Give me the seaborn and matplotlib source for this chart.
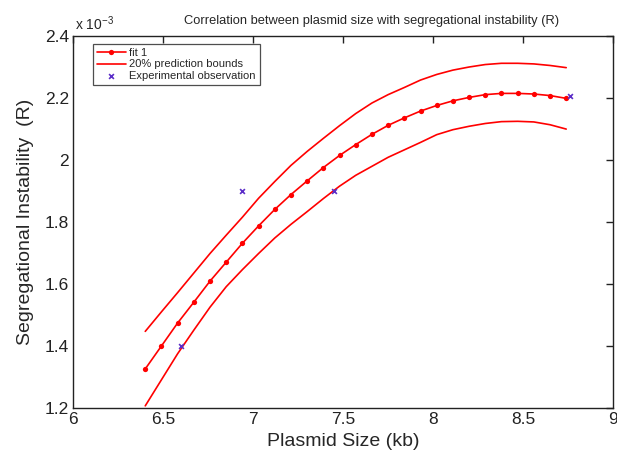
import matplotlib
matplotlib.use("Agg")
import matplotlib.pyplot as plt
import seaborn as sns
import pandas as pd

# Plasmid size (kb) grid of the fitted curve
x_fit = [6.40, 6.49, 6.58, 6.67, 6.76, 6.85, 6.94, 7.03, 7.12, 7.21, 7.30, 7.39, 7.48, 7.57,
         7.66, 7.75, 7.84, 7.93, 8.02, 8.11, 8.20, 8.29, 8.38, 8.47, 8.56, 8.65, 8.74]
# Fit 1 (units of 1e-3)
y_fit = [1.326, 1.400, 1.474, 1.541, 1.609, 1.670, 1.731, 1.787, 1.840, 1.888, 1.932, 1.975,
         2.014, 2.049, 2.082, 2.111, 2.135, 2.157, 2.175, 2.190, 2.201, 2.210, 2.214, 2.214,
         2.212, 2.207, 2.198]
# 20% prediction bounds (units of 1e-3)
y_upper = [1.447, 1.510, 1.572, 1.635, 1.698, 1.757, 1.815, 1.876, 1.930, 1.982, 2.027, 2.069,
           2.110, 2.149, 2.183, 2.210, 2.233, 2.257, 2.275, 2.289, 2.299, 2.307, 2.311, 2.311,
           2.309, 2.304, 2.297]
y_lower = [1.207, 1.291, 1.375, 1.451, 1.525, 1.591, 1.646, 1.698, 1.748, 1.792, 1.833, 1.875,
           1.915, 1.950, 1.979, 2.008, 2.032, 2.056, 2.081, 2.097, 2.108, 2.117, 2.123, 2.124,
           2.122, 2.113, 2.099]
# Experimental observations
x_obs = [6.60, 6.94, 7.45, 8.76]
y_obs = [1.40, 1.90, 1.90, 2.205]

x_ticks = [6, 6.5, 7, 7.5, 8, 8.5, 9]
x_ticklabels = ["6", "6.5", "7", "7.5", "8", "8.5", "9"]
y_ticks = [1.2, 1.4, 1.6, 1.8, 2.0, 2.2, 2.4]
y_ticklabels = ["1.2", "1.4", "1.6", "1.8", "2", "2.2", "2.4"]

sns.set_style("white")
plt.rcParams["font.family"] = ["Liberation Sans", "DejaVu Sans"]
plt.rcParams["mathtext.fontset"] = "custom"
plt.rcParams["mathtext.rm"] = "Liberation Sans"
plt.rcParams["mathtext.it"] = "Liberation Sans"
plt.rcParams["axes.unicode_minus"] = False

df_fit = pd.DataFrame({"x": x_fit, "y": y_fit, "up": y_upper, "lo": y_lower})
df_obs = pd.DataFrame({"x": x_obs, "y": y_obs})

fig = plt.figure(figsize=(6.17, 4.54), dpi=100)
ax = fig.add_axes([0.1188, 0.1013, 0.8747, 0.8201])

red = "#ff0000"
sns.lineplot(data=df_fit, x="x", y="y", ax=ax, color=red, lw=1.2, marker="o",
             markersize=3.8, markeredgewidth=0, label="fit 1", sort=False)
sns.lineplot(data=df_fit, x="x", y="up", ax=ax, color=red, lw=1.2,
             label="20% prediction bounds", sort=False)
sns.lineplot(data=df_fit, x="x", y="lo", ax=ax, color=red, lw=1.2, legend=False, sort=False)
sns.scatterplot(data=df_obs, x="x", y="y", ax=ax, color="#5b2dc8", marker="x", s=12,
                linewidth=1.2, label="Experimental observation", zorder=5)

ax.set_xlim(6, 9)
ax.set_ylim(1.2, 2.4)
ax.set_xticks(x_ticks)
ax.set_xticklabels(x_ticklabels)
ax.set_yticks(y_ticks)
ax.set_yticklabels(y_ticklabels)
ax.tick_params(direction="in", length=5, width=1, top=True, right=True, labelsize=12.5,
               colors="#222222", pad=3)
for s in ax.spines.values():
    s.set_visible(True)
    s.set_color("#222222")
    s.set_linewidth(1.0)

ax.set_xlabel("Plasmid Size (kb)", fontsize=14, labelpad=4)
ax.set_ylabel("Segregational Instability  (R)", fontsize=14, labelpad=8)

ax.text(0.553, 1.024, "Correlation between plasmid size with segregational instability (R)",
        transform=ax.transAxes, ha="center", va="bottom", fontsize=9.3)
ax.text(0.003, 1.008, r"x 10$^{-3}$", transform=ax.transAxes, ha="left", va="bottom",
        fontsize=10)

leg = ax.legend(loc="upper left", bbox_to_anchor=(0.036, 0.978), borderaxespad=0,
                fontsize=8, frameon=True, fancybox=False, edgecolor="#222222",
                handlelength=2.6, handletextpad=0.35, labelspacing=0.15, borderpad=0.35,
                markerscale=1.0)
leg.get_frame().set_linewidth(0.9)

fig.savefig("out.png", dpi=100)
